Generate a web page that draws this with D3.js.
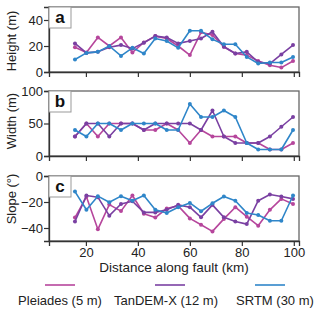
<!DOCTYPE html>
<html><head><meta charset="utf-8">
<script src="https://cdn.jsdelivr.net/npm/d3@7"></script>
<style>body{margin:0;background:#fff}svg{display:block}text{font-family:"Liberation Sans",Arial,sans-serif}</style>
</head><body>
<svg id="c" width="320" height="314"></svg>
<script>
const distance = [15.8,20.2,24.6,29.0,33.5,37.9,42.3,46.7,51.1,55.5,60.0,64.3,68.7,73.1,77.5,81.9,86.3,90.8,95.2,99.7];

const heightPleiades = [19,15,26.6,20,26.6,15,22.7,27.6,25.8,20,13,30.5,28.4,19.4,14.2,13,8.5,5.2,3.4,8.5];
const heightTandem   = [22,14.7,15.5,19,20.7,18,22.5,27.6,26.6,22,23.8,25.8,31,19.4,14.2,15.5,7.7,6.5,13.5,20.7];
const heightSrtm     = [9.6,14.7,15.5,20,12.4,18.6,14.2,25.8,23.8,18.6,31.7,31.7,25.1,21.4,21.4,11.6,6.5,7.3,7.3,11.6];

const widthPleiades = [30,50,30,50,50,50,40,40,50,40,20,40,30,30,30,20,20,10,10,20];
const widthTandem   = [30,50,50,30,50,50,40,50,50,50,50,40,70,30,20,20,20,30,45,60];
const widthSrtm     = [40,30,50,50,40,50,50,50,40,40,80,60,60,70,60,20,10,10,10,40];

const slopePleiades = [-32,-16,-41,-22,-27,-15,-29,-32,-25,-23,-32.6,-37.5,-42.6,-33,-24,-31.3,-38.2,-26,-17.6,-21.5];
const slopeTandem   = [-35,-15,-16.3,-30.5,-21.5,-19.4,-28,-28,-26,-22.2,-24,-31.8,-22.2,-31.8,-35,-37,-19,-14.2,-15.8,-17.6];
const slopeSrtm     = [-12,-26,-15.5,-20.2,-15.5,-19,-15,-26,-28.4,-24,-20.7,-27.1,-21,-15.8,-19,-28.4,-30,-34.4,-34.4,-15];

const seriesNames = ["Pleiades (5 m)","TanDEM-X (12 m)","SRTM (30 m)"];
const seriesColors = ["#b6469c","#7a40a2","#2f86c9"];
const xTicks = [20,40,60,80,100];

const panels = [
  {label:"a", title:"Height (m)", domain:[0,50], ticks:[0,20,40], data:[heightPleiades,heightTandem,heightSrtm]},
  {label:"b", title:"Width (m)", domain:[0,100], ticks:[0,50,100], data:[widthPleiades,widthTandem,widthSrtm]},
  {label:"c", title:"Slope (\u00b0)", domain:[-50,0], ticks:[-40,-20,0], data:[slopePleiades,slopeTandem,slopeSrtm]}
];

const svg = d3.select("#c");
const L = 49, R = 299, H = 65;
const tops = [7, 91, 176];
const titleY = [41, 121, 199];
const x = d3.scaleLinear().domain([5.8, 102]).range([L, R]);

panels.forEach((p, i) => {
  const top = tops[i];
  const y = d3.scaleLinear().domain(p.domain).range([top + H, top]);
  const g = svg.append("g");
  // frame
  g.append("rect").attr("x", L).attr("y", top).attr("width", R - L).attr("height", H)
    .attr("fill", "none").attr("stroke", "#666").attr("stroke-width", 1.3);
  // y axis
  const ya = g.append("g").attr("transform", `translate(${L},0)`)
    .call(d3.axisLeft(y).tickValues(p.ticks).tickSize(5).tickPadding(1).tickFormat(d3.format("d")));
  ya.select(".domain").attr("stroke", "#333").attr("stroke-width", 1.3);
  ya.selectAll(".tick line").attr("stroke", "#333").attr("stroke-width", 1.2);
  ya.selectAll(".tick text").attr("font-size", 13).attr("fill", "#222")
    .attr("font-family", "'Liberation Sans',Arial,sans-serif");
  // x axis
  const xa = g.append("g").attr("transform", `translate(0,${top + H})`)
    .call(d3.axisBottom(x).tickValues(xTicks).tickSize(5).tickPadding(2)
      .tickFormat(i === 2 ? d3.format("d") : () => ""));
  xa.select(".domain").attr("stroke", "#333").attr("stroke-width", 1.3);
  xa.selectAll(".tick line").attr("stroke", "#333").attr("stroke-width", 1.2);
  xa.selectAll(".tick text").attr("font-size", 13).attr("fill", "#222")
    .attr("font-family", "'Liberation Sans',Arial,sans-serif");
  // y title
  g.append("text").attr("transform", `translate(16,${titleY[i]}) rotate(-90)`)
    .attr("text-anchor", "middle").attr("font-size", 13).attr("fill", "#222").text(p.title);
  // lines
  const line = d3.line().x((d, j) => x(distance[j])).y(d => y(d));
  p.data.forEach((vals, s) => {
    g.append("path").datum(vals).attr("d", line).attr("fill", "none")
      .attr("stroke", seriesColors[s]).attr("stroke-width", 1.6).attr("stroke-linejoin", "round");
    g.selectAll(null).data(vals).enter().append("circle")
      .attr("cx", (d, j) => x(distance[j])).attr("cy", d => y(d)).attr("r", 2)
      .attr("fill", seriesColors[s]);
  });
  // panel label
  g.append("rect").attr("x", L).attr("y", top).attr("width", 22).attr("height", 21)
    .attr("fill", "#fff").attr("stroke", "#999").attr("stroke-width", 1);
  g.append("text").attr("x", L + 11).attr("y", top + 16).attr("text-anchor", "middle")
    .attr("font-size", 17).attr("font-weight", "bold").attr("fill", "#111").text(p.label);
});

svg.append("text").attr("x", 174).attr("y", 272).attr("text-anchor", "middle")
  .attr("font-size", 13.5).attr("fill", "#222").text("Distance along fault (km)");

const legX = [60, 170, 270];
const legTextX = [60, 166, 275];
seriesNames.forEach((n, s) => {
  svg.append("line").attr("x1", legX[s] - 15).attr("x2", legX[s] + 15)
    .attr("y1", 285).attr("y2", 285).attr("stroke", seriesColors[s]).attr("stroke-width", 1.6);
  svg.append("text").attr("x", legTextX[s]).attr("y", 305).attr("text-anchor", "middle")
    .attr("font-size", 13).attr("fill", "#222").text(n);
});
</script>
</body></html>
